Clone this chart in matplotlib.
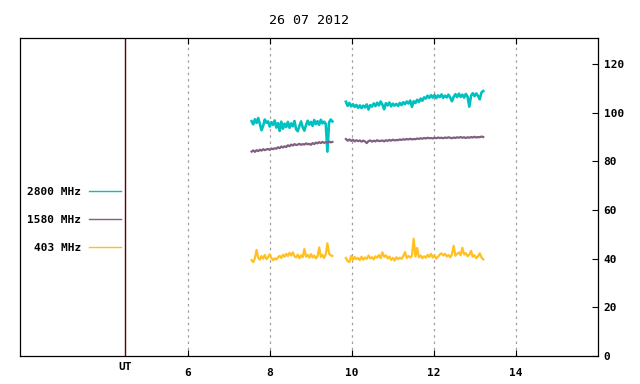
import numpy as np
import matplotlib
matplotlib.use("Agg")
import matplotlib.pyplot as plt
import matplotlib.transforms as mtransforms

plt.rcParams["font.family"] = ["DejaVu Sans Mono"]
plt.rcParams["font.weight"] = "bold"
plt.rcParams["font.size"] = 8

title = "26 07 2012"
labels = ["2800 MHz", "1580 MHz", "403 MHz"]
colors = ["#00c0c0", "#806080", "#ffc020"]
widths = [1.9, 1.6, 1.6]
ut_pos = 4.46
xticks = [6, 8, 10, 12, 14]
yticks = [0, 20, 40, 60, 80, 100, 120]

# sampling times (UT hours) of the two recording pieces
t1 = np.linspace(7.55, 9.52, 50)
t2 = np.linspace(9.85, 13.2, 80)

f2800_a = [96.5, 95.2, 97.3, 95.8, 97.8, 95.4, 92.8, 94.6, 97.2, 95.9,
           96.4, 94.3, 96.1, 95.0, 96.8, 93.9, 95.7, 92.5, 96.3, 93.4,
           95.5, 94.1, 96.2, 93.8, 95.6, 94.4, 96.6, 93.2, 92.4, 94.5,
           96.4, 94.0, 92.6, 94.9, 96.7, 95.1, 96.2, 94.6, 97.0, 95.3,
           96.5, 95.0, 97.1, 95.6, 96.3, 95.4, 84.0, 96.0, 97.2, 96.4]
f2800_b = [104.5, 102.8, 104.0, 102.6, 103.5, 102.4, 103.2, 102.0, 103.0, 101.9,
           102.9, 102.2, 103.4, 101.3, 103.1, 102.5, 103.8, 102.7, 104.1, 103.0,
           104.6, 103.3, 101.4, 103.9, 103.0, 104.2, 102.6, 103.7, 102.9, 103.6,
           102.8, 104.0, 103.1, 104.3, 103.5, 104.6, 103.8, 105.0, 102.4, 104.7,
           104.0, 105.3, 104.4, 105.8, 104.9, 106.3, 105.8, 107.0, 106.1, 107.2,
           106.2, 107.3, 106.0, 107.1, 106.4, 107.5, 106.1, 107.0, 106.3, 107.4,
           106.2, 104.7, 106.5, 107.6, 106.4, 107.8, 106.5, 107.4, 106.2, 107.7,
           106.6, 102.5, 107.0, 108.0, 106.8, 107.9, 106.9, 105.5, 108.3, 108.9]

f1580_a = [84.0, 84.5, 83.9, 84.6, 84.2, 84.8, 84.4, 85.0, 84.6, 84.9,
           85.1, 84.7, 85.3, 85.0, 85.4, 85.2, 85.8, 85.4, 86.1, 85.7,
           86.2, 85.9, 86.6, 86.2, 86.9, 86.5, 87.1, 86.7, 86.9, 87.2,
           86.8, 87.1, 86.9, 87.4, 87.0, 87.2, 86.8, 87.5, 87.1, 87.7,
           87.4, 87.9, 87.5, 88.0, 87.6, 87.9, 87.7, 88.1, 87.8, 88.0]
f1580_b = [89.2, 88.5, 89.0, 88.4, 88.9, 88.2, 88.7, 88.3, 88.6, 88.1,
           88.5, 88.2, 87.5, 88.3, 88.6, 88.1, 88.5, 88.2, 88.7, 88.3,
           88.4, 88.6, 88.2, 88.7, 88.4, 88.8, 88.5, 88.9, 88.6, 88.8,
           88.7, 89.0, 88.8, 89.1, 88.9, 89.2, 89.0, 89.3, 89.0, 89.2,
           89.1, 89.4, 89.2, 89.5, 89.3, 89.6, 89.4, 89.7, 89.5, 89.6,
           89.4, 89.7, 89.5, 89.8, 89.6, 89.7, 89.5, 89.8, 89.6, 89.9,
           89.7, 89.5, 89.8, 89.6, 89.9, 89.7, 90.0, 89.7, 89.9, 89.6,
           89.9, 89.7, 90.0, 89.8, 90.1, 89.8, 90.0, 89.9, 90.2, 90.0]

f403_a = [39.4, 38.6, 40.2, 43.6, 40.5, 39.6, 41.1, 40.0, 41.5, 39.8,
          40.6, 41.8, 40.3, 39.4, 40.1, 39.7, 40.5, 41.2, 40.3, 41.6,
          40.8, 42.0, 41.1, 42.4, 41.3, 42.6, 41.0, 40.5, 41.7, 40.2,
          41.4, 40.6, 44.0, 40.8, 41.6, 40.4, 41.9, 40.5, 41.3, 40.1,
          41.0, 44.6, 40.7, 41.5, 40.3, 41.8, 46.3, 42.1, 41.4, 41.1]
f403_b = [40.3, 39.0, 38.6, 41.2, 39.5, 40.7, 39.8, 40.3, 39.4, 40.8,
          39.6, 40.5, 39.9, 41.3, 40.1, 40.6, 39.7, 41.0, 40.4, 41.5,
          40.2, 42.6, 40.8, 41.4, 40.1, 40.9, 39.5, 40.3, 39.2, 40.6,
          39.8, 40.4, 39.9, 41.0, 42.7, 40.3, 41.1, 40.5, 41.2, 48.2,
          40.9, 44.4, 40.6, 41.3, 40.2, 41.0, 40.4, 41.6, 40.7, 42.0,
          40.5, 41.3, 40.0, 40.8, 41.7, 42.2, 41.3, 42.0, 40.9, 41.5,
          40.6, 41.8, 45.3, 41.2, 42.0, 42.6, 41.4, 44.5, 41.7, 42.3,
          41.0, 41.6, 43.2, 40.8, 41.4, 40.2, 41.0, 42.2, 40.5, 39.7]

series = [(f2800_a, f2800_b), (f1580_a, f1580_b), (f403_a, f403_b)]

fig = plt.figure(figsize=(6.4, 3.84), dpi=100)
ax = fig.add_axes([20 / 640, 28 / 384, 578 / 640, 318 / 384])

handles = []
for (a, b), lab, col, w in zip(series, labels, colors, widths):
    h, = ax.plot(t1, a, color=col, lw=w, label=lab)
    ax.plot(t2, b, color=col, lw=w)
    handles.append(h)

ax.axvline(ut_pos, color="#600000", lw=1.0)

ax.set_xlim(1.9, 16.0)
ax.set_ylim(0, 130.7)
ax.set_xticks(xticks)
ax.set_xticklabels([str(x) for x in xticks])
ax.set_yticks(yticks)
ax.yaxis.tick_right()
ax.tick_params(axis="x", direction="in", length=4, top=True, bottom=True, pad=8.5)
ax.tick_params(axis="y", direction="in", length=4, left=False, right=True, pad=4)
ax.grid(axis="x", color="#a0a0a0", ls=(0, (2, 3)), lw=0.9)
for s in ax.spines.values():
    s.set_linewidth(0.9)

trans = mtransforms.blended_transform_factory(ax.transData, ax.transAxes)
ax.text(ut_pos, -0.019, "UT", transform=trans, ha="center", va="top")

ax.set_title(title, pad=10)

leg = ax.legend(handles=handles, loc="upper right", bbox_to_anchor=(0.175, 0.532),
                frameon=False, markerfirst=False, borderpad=0, borderaxespad=0,
                handlelength=2.9, handletextpad=0.7, labelspacing=1.62)
for line in leg.get_lines():
    line.set_linewidth(1.0)

fig.savefig("out.png", dpi=100)
